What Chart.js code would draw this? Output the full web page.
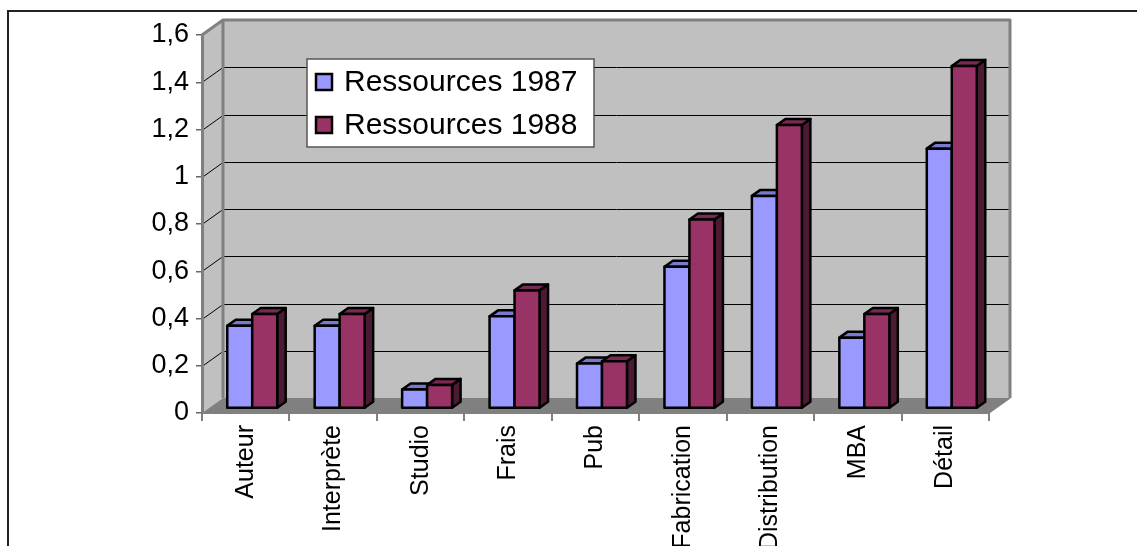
<!DOCTYPE html>
<html>
<head>
<meta charset="utf-8">
<script src="https://cdn.jsdelivr.net/npm/chart.js@4.4.1/dist/chart.umd.min.js"></script>
<style>
html,body{margin:0;padding:0;background:#fff;}
canvas{display:block;}
</style>
</head>
<body>
<canvas id="chart" width="1137" height="546"></canvas>
<script>
const categories = ['Auteur','Interprète','Studio','Frais','Pub','Fabrication','Distribution','MBA','Détail'];
const ressources1987 = [0.35, 0.35, 0.08, 0.39, 0.19, 0.6, 0.9, 0.3, 1.1];
const ressources1988 = [0.4, 0.4, 0.1, 0.5, 0.2, 0.8, 1.2, 0.4, 1.45];
const seriesNames = ['Ressources 1987', 'Ressources 1988'];
const yMin = 0, yMax = 1.6, yStep = 0.2;

const FONT = "'Liberation Sans', Arial, sans-serif";

// fake 3D: wall depth, bar offset inside the floor, bar depth
const WALL_DX = 21, WALL_DY = -15;
const BAR_OX = 6.5, BAR_OY = -4.5;
const BAR_DX = 8.5, BAR_DY = -6;

const faceColors = [
  {front: '#9999ff', top: '#7a7acc', side: '#4d4d80'},
  {front: '#993366', top: '#7a2952', side: '#4d1a33'}
];

function fmt(v){
  return String(Math.round(v*10)/10).replace('.', ',');
}

function poly(ctx, pts, fill){
  ctx.beginPath();
  ctx.moveTo(pts[0][0], pts[0][1]);
  for(let i=1;i<pts.length;i++) ctx.lineTo(pts[i][0], pts[i][1]);
  ctx.closePath();
  ctx.fillStyle = fill;
  ctx.fill();
  ctx.stroke();
}

const walls3d = {
  id: 'walls3d',
  beforeDraw(chart){
    const {ctx, chartArea: a, scales: {y}} = chart;
    const L = a.left, R = a.right, T = a.top, B = a.bottom;
    ctx.save();
    ctx.fillStyle = '#fff';
    ctx.fillRect(0, 0, chart.width, chart.height);

    // outer frame
    ctx.strokeStyle = '#222';
    ctx.lineWidth = 2;
    ctx.beginPath();
    ctx.moveTo(8, chart.height);
    ctx.lineTo(8, 11);
    ctx.lineTo(chart.width, 11);
    ctx.stroke();

    // side wall + back wall
    ctx.fillStyle = '#c0c0c0';
    ctx.beginPath();
    ctx.moveTo(L, T); ctx.lineTo(L+WALL_DX, T+WALL_DY);
    ctx.lineTo(L+WALL_DX, B+WALL_DY); ctx.lineTo(L, B);
    ctx.closePath(); ctx.fill();
    ctx.fillRect(L+WALL_DX, T+WALL_DY, R-L, B-T);

    // gridlines on the walls
    ctx.strokeStyle = '#000';
    ctx.lineWidth = 1;
    y.ticks.forEach(t => {
      if(t.value <= yMin || t.value >= yMax) return;
      const py = Math.round(y.getPixelForValue(t.value)) + 0.5;
      ctx.beginPath();
      ctx.moveTo(L, py);
      ctx.lineTo(L+WALL_DX, py+WALL_DY);
      ctx.lineTo(R+WALL_DX, py+WALL_DY);
      ctx.stroke();
    });

    // floor
    ctx.fillStyle = '#808080';
    ctx.beginPath();
    ctx.moveTo(L, B); ctx.lineTo(R, B);
    ctx.lineTo(R+WALL_DX, B+WALL_DY); ctx.lineTo(L+WALL_DX, B+WALL_DY);
    ctx.closePath(); ctx.fill();

    // wall edges
    ctx.strokeStyle = '#808080';
    ctx.lineWidth = 3;
    ctx.lineJoin = 'round';
    ctx.beginPath();
    ctx.moveTo(L, T);
    ctx.lineTo(L+WALL_DX, T+WALL_DY);
    ctx.lineTo(R+WALL_DX, T+WALL_DY);
    ctx.lineTo(R+WALL_DX, B+WALL_DY);
    ctx.stroke();
    ctx.beginPath();
    ctx.moveTo(L+WALL_DX, T+WALL_DY);
    ctx.lineTo(L+WALL_DX, B+WALL_DY);
    ctx.stroke();
    ctx.lineWidth = 1.5;
    ctx.beginPath();
    ctx.moveTo(R, B);
    ctx.lineTo(R+WALL_DX, B+WALL_DY);
    ctx.stroke();
    ctx.restore();
  },
  beforeDatasetsDraw(chart){
    const ctx = chart.ctx;
    ctx.save();
    ctx.strokeStyle = '#000';
    ctx.lineWidth = 2.5;
    ctx.lineJoin = 'round';
    const metas = chart.data.datasets.map((d, i) => chart.getDatasetMeta(i));
    for(let j=0;j<categories.length;j++){
      metas.forEach((meta, i) => {
        const bar = meta.data[j];
        const c = faceColors[i];
        const l = bar.x - bar.width/2 + BAR_OX, r = bar.x + bar.width/2 + BAR_OX;
        const t = bar.y + BAR_OY, b = bar.base + BAR_OY;
        poly(ctx, [[r,t],[r+BAR_DX,t+BAR_DY],[r+BAR_DX,b+BAR_DY],[r,b]], c.side);
        poly(ctx, [[l,t],[l+BAR_DX,t+BAR_DY],[r+BAR_DX,t+BAR_DY],[r,t]], c.top);
        poly(ctx, [[l,t],[r,t],[r,b],[l,b]], c.front);
      });
    }
    ctx.restore();
    return false;
  },
  afterDraw(chart){
    const ctx = chart.ctx;
    ctx.save();
    // legend box
    const bx = 307, by = 59, bw = 287, bh = 88;
    ctx.fillStyle = '#fff';
    ctx.fillRect(bx, by, bw, bh);
    ctx.strokeStyle = '#555';
    ctx.lineWidth = 1.5;
    ctx.strokeRect(bx, by, bw, bh);
    ctx.font = '30px ' + FONT;
    ctx.textBaseline = 'middle';
    ctx.fillStyle = '#000';
    chart.data.datasets.forEach((ds, i) => {
      const cy = by + 23 + i*43;
      ctx.fillStyle = ds.backgroundColor;
      ctx.fillRect(316, cy-8, 16, 16);
      ctx.strokeStyle = '#000';
      ctx.lineWidth = 2.5;
      ctx.strokeRect(316, cy-8, 16, 16);
      ctx.fillStyle = '#000';
      ctx.fillText(ds.label, 344, cy+1);
    });
    ctx.restore();
  }
};

new Chart(document.getElementById('chart'), {
  type: 'bar',
  data: {
    labels: categories,
    datasets: [
      {label: seriesNames[0], data: ressources1987, backgroundColor: faceColors[0].front},
      {label: seriesNames[1], data: ressources1988, backgroundColor: faceColors[1].front}
    ]
  },
  options: {
    responsive: false,
    devicePixelRatio: 1,
    animation: false,
    layout: {padding: {left: 0, right: 148, top: 35, bottom: 0}},
    datasets: {bar: {categoryPercentage: 2/3.5, barPercentage: 1}},
    plugins: {legend: {display: false}, tooltip: {enabled: false}},
    scales: {
      x: {
        afterFit(s){ s.height = 133; },
        grid: {offset: true, drawOnChartArea: false, drawTicks: true, tickLength: 8, color: '#808080', lineWidth: 2},
        border: {color: '#808080', width: 2},
        ticks: {autoSkip: false, minRotation: 90, maxRotation: 90, padding: 4, color: '#000', font: {family: FONT, size: 25}}
      },
      y: {
        min: yMin, max: yMax,
        afterFit(s){ s.width = 202; },
        grid: {drawOnChartArea: false, drawTicks: true, tickLength: 6, color: '#666', lineWidth: 1.5},
        border: {color: '#808080', width: 3},
        ticks: {stepSize: yStep, padding: 7, color: '#000', font: {family: FONT, size: 27}, callback: v => fmt(v)}
      }
    }
  },
  plugins: [walls3d]
});
</script>
</body>
</html>
